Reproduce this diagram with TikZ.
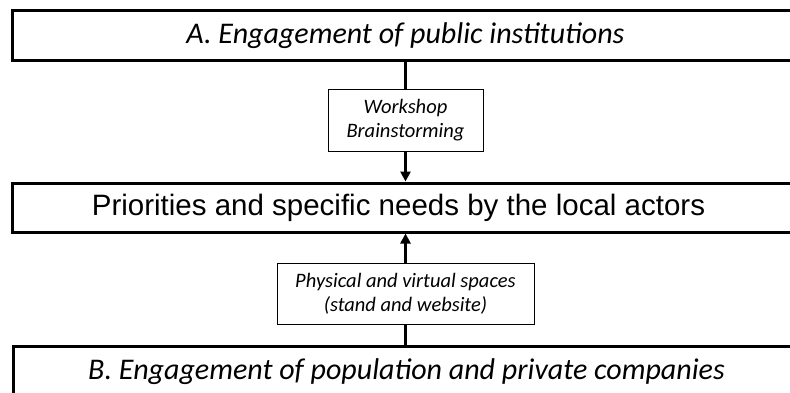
\documentclass[tikz,border=0pt]{standalone}
\usepackage{fontspec}
\setmainfont{Carlito}
\newfontfamily\arialfont{Liberation Sans}
\usetikzlibrary{arrows.meta}
\begin{document}
\begin{tikzpicture}[x=1pt,y=-1pt,
  bigbox/.style={draw, line width=3pt, minimum width=786pt, inner sep=0pt, anchor=north west},
  smallbox/.style={draw, line width=1pt, inner sep=0pt, align=center,
    font=\itshape\fontsize{20.5}{24}\selectfont},
  conn/.style={line width=2.5pt},
  arr/.style={conn, -{Triangle[length=10pt,width=10pt]}}]
\useasboundingbox (0,0) rectangle (790,392);
\clip (0,0) rectangle (790,392);
% the three stages
\node[bigbox, minimum height=50.5pt, font=\itshape\fontsize{30}{34}\selectfont] (a) at (11,8.5)
  {A. Engagement of public institutions};
\node[bigbox, minimum height=49pt, font=\arialfont\fontsize{29.5}{34}\selectfont] (m) at (11,181.5)
  {\hspace*{-14pt}Priorities and specific needs by the local actors};
\node[bigbox, minimum height=50pt, font=\itshape\fontsize{30}{34}\selectfont] (b) at (12,345)
  {B. Engagement of population and private companies};
% the two channels
\node[smallbox, minimum width=155pt, minimum height=62pt] (w) at (405.5,120)
  {Workshop\\Brainstorming};
\node[smallbox, minimum width=257pt, minimum height=61pt] (p) at (405.5,293.5)
  {Physical and virtual spaces\\(stand and website)};
% connectors
\draw[conn] (w.north |- a.south) -- (w.north);
\draw[arr] (w.south) -- (w.south |- m.north);
\draw[arr] (p.north) -- (p.north |- m.south);
\draw[conn] (p.south) -- (p.south |- b.north);
\end{tikzpicture}
\end{document}
